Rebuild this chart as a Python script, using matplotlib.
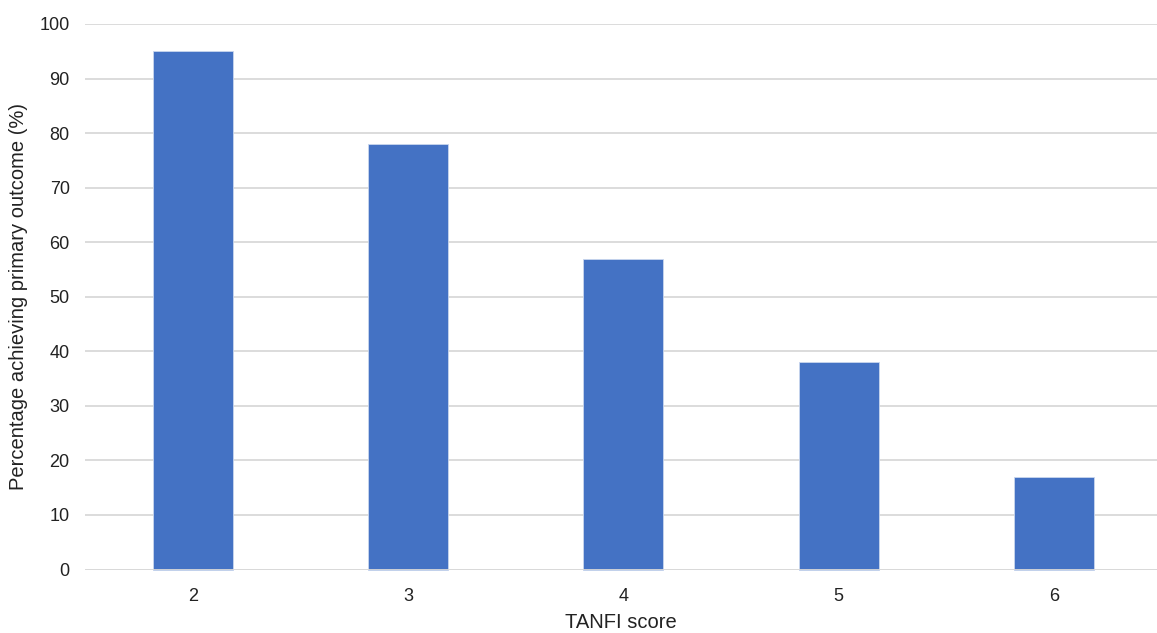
import matplotlib.pyplot as plt

plt.rcParams['font.family'] = ['Liberation Sans', 'DejaVu Sans']

scores = ["2", "3", "4", "5", "6"]
pct_primary = [95, 78, 57, 38, 17]
y_ticks = [0, 10, 20, 30, 40, 50, 60, 70, 80, 90, 100]

fig = plt.figure(figsize=(11.57, 6.33), dpi=100)
ax = fig.add_axes([85 / 1157, 63.5 / 633, 1072 / 1157, 545.5 / 633])

x = range(len(scores))
ax.bar(x, pct_primary, width=0.372, color="#4472C4", edgecolor="#c9d6ee",
       linewidth=0.6, zorder=3, clip_on=False)

ax.set_xlim(-0.5, 4.478)
ax.set_ylim(0, 100)
ax.set_yticks(y_ticks)
ax.set_xticks(list(x))
ax.set_xticklabels(scores)
ax.grid(axis="y", color="#d9d9d9", linewidth=1.3, zorder=0)
ax.axhline(0, color="#d9d9d9", linewidth=1.3, zorder=4)
for spine in ax.spines.values():
    spine.set_visible(False)
ax.tick_params(length=0, labelsize=13, colors="#222222", pad=11)
ax.tick_params(axis="x", pad=13)

ax.set_xlabel("TANFI score", fontsize=14.5, color="#222222", labelpad=6)
ax.set_ylabel("Percentage achieving primary outcome (%)", fontsize=14.5,
              color="#222222", labelpad=8)

fig.savefig("out.png", dpi=100)
